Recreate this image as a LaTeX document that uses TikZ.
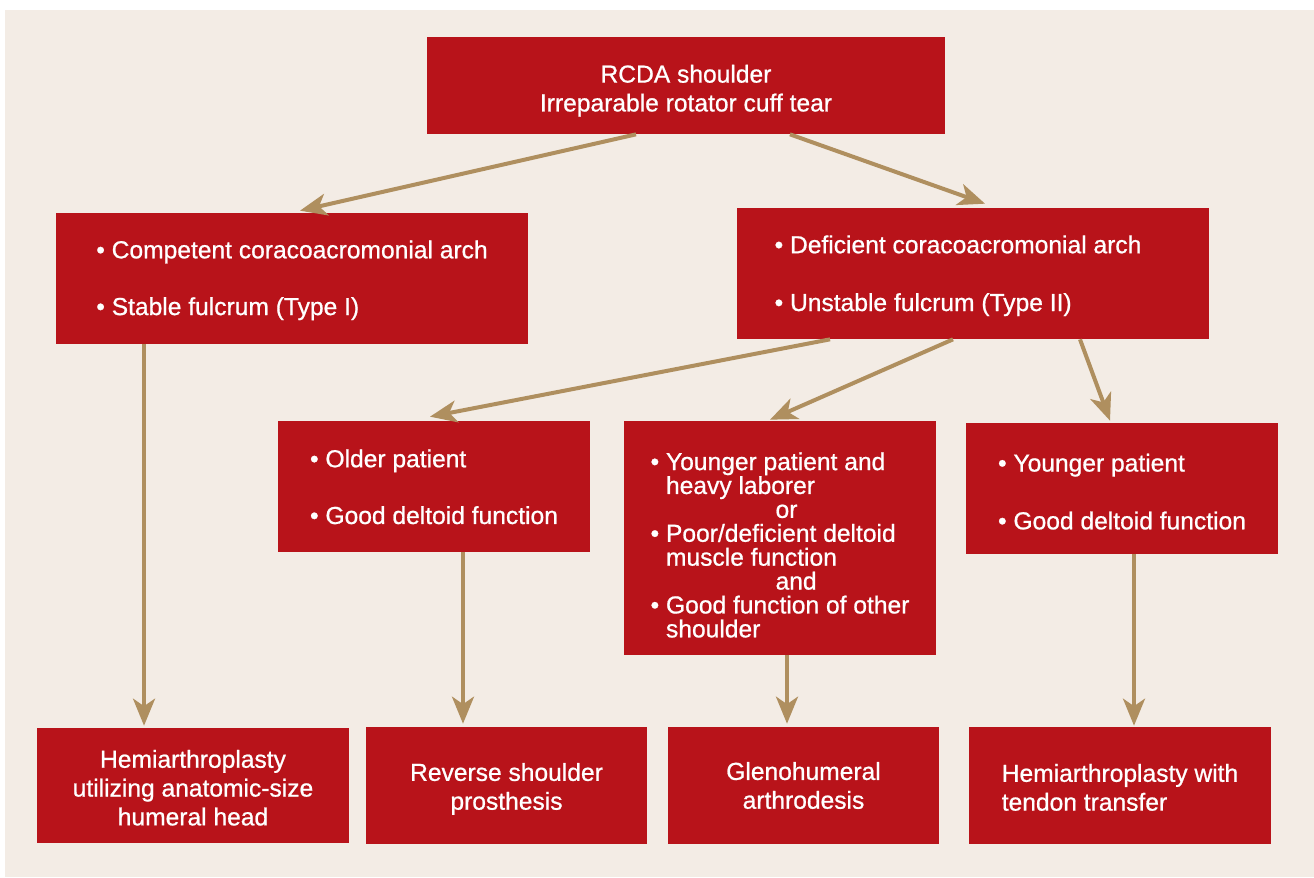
\documentclass[tikz,border=0pt]{standalone}
\usepackage{fontspec}
\setmainfont{Liberation Sans}[FakeBold=0.8]
\usetikzlibrary{arrows.meta,positioning,calc}
\definecolor{cRed}{HTML}{B8131A}
\definecolor{cTan}{HTML}{AF8F5F}
\definecolor{cBg}{HTML}{F3ECE5}
\newcommand{\bitem}{\textbullet\ }
\newcommand{\bcont}{\hphantom{\textbullet\ }}
\newcommand{\tpad}[1]{\rule{0pt}{#1}} % pushes text down a bit
\tikzset{
  sbox/.style={fill=cRed, text=white, inner sep=0pt, align=center,
               font=\fontsize{14}{16.4}\selectfont},
  sboxl/.style={sbox, align=left},
  stight/.style={font=\fontsize{14}{13.6}\selectfont}, % dense box, 8 lines
  sarr/.style={draw=cTan, line width=0.08cm,
               -{Stealth[length=0.54cm,width=0.44cm,inset=0.15cm]}},
}

\begin{document}
\begin{tikzpicture}[x=0.02cm,y=-0.02cm]
  \useasboundingbox (0,0) rectangle (1314,877);
  \fill[cBg] (5,10) rectangle (1314,877);

  % top
  \node[sbox, minimum width=10.36cm, minimum height=1.94cm] (top) at (686,85.5)
    {\tpad{16pt}RCDA shoulder\\Irreparable rotator cuff tear};

  % second row
  \node[sboxl, minimum width=9.44cm, minimum height=2.62cm] (lm) at (292,278.5)
    {\tpad{12.2pt}\bitem Competent coracoacromonial arch\\[15.9pt]\bitem Stable fulcrum (Type I)};
  \node[sboxl, minimum width=9.44cm, minimum height=2.62cm] (rm) at (973,273.5)
    {\tpad{12.7pt}\bitem Deficient coracoacromonial arch\hspace*{0.6cm}\\[16.5pt]\bitem Unstable fulcrum (Type II)};

  % third row
  \node[sboxl, minimum width=6.24cm, minimum height=2.62cm] (oa) at (434,486.5)
    {\tpad{10.5pt}\bitem Older patient\\[15.9pt]\bitem Good deltoid function};
  \node[sboxl, stight, minimum width=6.24cm, minimum height=4.68cm] (ob) at (780,538)
    {\tpad{18pt}\bitem Younger patient and\\
     \bcont heavy laborer\\
     \hspace*{2.5cm}or\\
     \bitem Poor/deficient deltoid\\
     \bcont muscle function\\
     \hspace*{2.5cm}and\\
     \bitem Good function of other\\
     \bcont shoulder};
  \node[sboxl, minimum width=6.24cm, minimum height=2.62cm] (oc) at (1122,488.5)
    {\tpad{13.7pt}\bitem Younger patient\\[16.5pt]\bitem Good deltoid function};

  % bottom row
  \node[sbox, minimum width=6.24cm, minimum height=2.3cm] (r1) at (193,785.5)
    {\tpad{12.7pt}Hemiarthroplasty\\utilizing anatomic-size\\humeral head};
  \node[sbox, minimum width=5.62cm, minimum height=2.34cm] (r2) at (506.5,785.5)
    {\tpad{14pt}Reverse shoulder\\prosthesis};
  \node[sbox, minimum width=5.42cm, minimum height=2.34cm] (r3) at (803.5,785.5)
    {Glenohumeral\\arthrodesis};
  \node[sboxl, minimum width=6.04cm, minimum height=2.34cm] (r4) at (1120,785.5)
    {\tpad{12.3pt}Hemiarthroplasty with\\tendon transfer};

  % connectors
  \draw[sarr] ([xshift=-1cm]top.south) -- ([xshift=0.16cm,yshift=0.04cm]lm.north);
  \draw[sarr] ([xshift=2.08cm]top.south) -- ([xshift=0.24cm,yshift=0.08cm]rm.north);
  \draw[sarr] ([xshift=-2.96cm]lm.south) -- ([xshift=-2.96cm,yshift=0.04cm]lm.south |- r1.north);
  \draw[sarr] ([xshift=-2.86cm]rm.south) -- ([xshift=-0.08cm,yshift=0.08cm]oa.north);
  \draw[sarr] ([xshift=-0.4cm]rm.south) -- ([xshift=-0.2cm,yshift=0.02cm]ob.north);
  \draw[sarr] ([xshift=2.14cm]rm.south) -- ([xshift=-0.24cm,yshift=0.04cm]oc.north);
  \draw[sarr] ([xshift=0.58cm]oa.south) -- ([xshift=0.58cm,yshift=0.06cm]oa.south |- r2.north);
  \draw[sarr] ([xshift=0.14cm]ob.south) -- ([xshift=0.14cm,yshift=0.06cm]ob.south |- r3.north);
  \draw[sarr] ([xshift=0.24cm]oc.south) -- ([xshift=0.24cm,yshift=0.02cm]oc.south |- r4.north);
\end{tikzpicture}
\end{document}
